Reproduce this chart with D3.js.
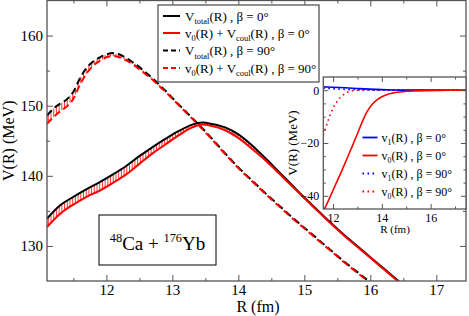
<!DOCTYPE html>
<html>
<head>
<meta charset="utf-8">
<script src="https://cdn.jsdelivr.net/npm/d3@7"></script>
<style>
  body { margin: 0; background: #fff; }
  svg { display: block; }
</style>
</head>
<body>
<div id="chart"></div>
<script>
// ---- data ----
// main panel, beta = 0
const rGrid0 = [11.1, 11.3, 11.5, 11.7, 11.9, 12.1, 12.3, 12.5, 12.7, 12.9, 13.1, 13.3, 13.45, 13.6, 13.8, 14.0, 14.2, 14.4, 14.6, 14.8, 15.0, 15.2, 15.4, 15.6, 15.8, 16.0, 16.2, 16.4, 16.6];
const vTotal0 = [133.9, 135.8, 137.0, 138.1, 139.1, 140.2, 141.4, 142.8, 144.1, 145.3, 146.4, 147.3, 147.6, 147.4, 146.9, 145.9, 144.4, 142.6, 140.7, 138.8, 136.9, 135.1, 133.3, 131.6, 130.0, 128.4, 126.8, 125.2, 123.7];
const vNucCoul0 = [132.7, 134.6, 135.9, 137.0, 137.9, 139.0, 140.2, 141.7, 143.2, 144.5, 145.8, 146.9, 147.3, 147.1, 146.5, 145.4, 143.9, 142.3, 140.5, 138.65, 136.8, 135.0, 133.2, 131.5, 129.9, 128.3, 126.7, 125.1, 123.6];

// main panel, beta = 90
const rGrid90 = [11.1, 11.2, 11.3, 11.4, 11.5, 11.6, 11.7, 11.8, 11.9, 12.0, 12.1, 12.2, 12.3, 12.4, 12.5, 12.6, 12.7, 12.8, 12.9, 13.0, 13.2, 13.4, 13.6, 13.8, 14.0, 14.2, 14.4, 14.6, 14.8, 15.0, 15.2, 15.4, 15.6, 15.8, 16.0];
const vTotal90 = [148.6, 149.6, 150.3, 150.9, 152.0, 153.9, 155.4, 156.3, 156.9, 157.3, 157.5, 157.3, 156.8, 156.2, 155.5, 154.7, 153.9, 153.0, 152.1, 151.1, 149.2, 147.3, 145.3, 143.2, 141.2, 139.4, 137.6, 135.9, 134.2, 132.6, 131.0, 129.4, 127.8, 126.3, 124.8];
const vNucCoul90 = [147.4, 148.4, 149.2, 149.9, 151.0, 153.0, 154.6, 155.7, 156.4, 156.9, 157.1, 156.9, 156.45, 155.9, 155.2, 154.45, 153.7, 152.8, 151.95, 151.0, 149.1, 147.2, 145.2, 143.1, 141.1, 139.3, 137.5, 135.8, 134.1, 132.5, 130.9, 129.3, 127.7, 126.2, 124.7];

// inset
const rV0a = [11.6, 11.8, 12.0, 12.2, 12.4, 12.6, 12.8, 13.0, 13.2, 13.4, 13.6, 13.8, 14.0, 14.2, 14.4, 14.6, 14.8, 15.0, 15.4, 15.8, 16.4, 17.0, 17.5];
const v0Beta0 = [-46.0, -42.0, -37.9, -33.8, -29.6, -25.3, -20.9, -16.5, -11.9, -8.0, -5.4, -3.7, -2.5, -1.7, -1.2, -0.8, -0.6, -0.4, -0.25, -0.15, -0.07, -0.03, 0];
const rV0b = [11.6, 11.7, 11.8, 11.9, 12.0, 12.1, 12.2, 12.3, 12.4, 12.5, 12.6, 12.8, 13.0, 13.5, 14.0, 15.0, 16.0, 17.5];
const v0Beta90 = [-17.0, -14.2, -11.5, -9.0, -6.8, -5.1, -3.8, -2.7, -1.9, -1.2, -0.7, -0.2, 0.0, 0.1, 0.1, 0.05, 0.02, 0];
const rV1 = [11.6, 12.0, 12.5, 13.0, 13.5, 14.0, 14.5, 15.0, 16.0, 17.5];
const v1Beta0 = [1.3, 1.1, 0.9, 0.65, 0.4, 0.2, 0.08, 0.03, 0.01, 0];
const v1Beta90 = [0.8, 0.55, 0.3, 0.12, 0.05, 0.02, 0.01, 0, 0, 0];

// ticks
const xMajor = [12, 13, 14, 15, 16, 17];
const xMinor = [11.5, 12.5, 13.5, 14.5, 15.5, 16.5];
const yMajor = [130, 140, 150, 160];
const yMinor = [135, 145, 155];
const inXMajor = [12, 14, 16];
const inXMinor = [13, 15, 17];
const inYMajor = [0, -20, -40];
const inYMinor = [-5, -10, -15, -25, -30, -35];

// legend texts
const legendMain = [
  [{t: "V"}, {t: "total", s: -1}, {t: "(R) , β = 0°"}],
  [{t: "v"}, {t: "0", s: -1}, {t: "(R) + V"}, {t: "coul", s: -1}, {t: "(R) , β = 0°"}],
  [{t: "V"}, {t: "total", s: -1}, {t: "(R) , β = 90°"}],
  [{t: "v"}, {t: "0", s: -1}, {t: "(R) + V"}, {t: "coul", s: -1}, {t: "(R) , β = 90°"}]
];
const legendInset = [
  [{t: "v"}, {t: "1", s: -1}, {t: "(R) , β = 0°"}],
  [{t: "v"}, {t: "0", s: -1}, {t: "(R) , β = 0°"}],
  [{t: "v"}, {t: "1", s: -1}, {t: "(R) , β = 90°"}],
  [{t: "v"}, {t: "0", s: -1}, {t: "(R) , β = 90°"}]
];
const titleParts = [{t: "48", s: 1}, {t: "Ca + "}, {t: "176", s: 1}, {t: "Yb"}];

// ---- layout ----
const width = 469, height = 316;
const main = {left: 47, right: 466, top: 0.5, bottom: 281};
const ins = {left: 323.3, right: 466, top: 77, bottom: 209};
const serif = "'Liberation Serif', 'Times New Roman', serif";
const frameColor = "#555";

const svg = d3.select("#chart").append("svg")
  .attr("width", width).attr("height", height)
  .style("font-family", serif);

const x = d3.scaleLinear().domain([11.1, 17.45]).range([main.left, main.right]);
const y = d3.scaleLinear().domain([125, 165]).range([main.bottom, main.top]);
const xi = d3.scaleLinear().domain([11.6, 17.45]).range([ins.left, ins.right]);
const yi = d3.scaleLinear().domain([-45, 5]).range([ins.bottom, ins.top]);

// rich text with sub/superscripts
function rich(sel, parts, fs) {
  let cur = 0;
  parts.forEach(p => {
    const shift = p.s === -1 ? fs * 0.3 : p.s === 1 ? -fs * 0.42 : 0;
    const ts = sel.append("tspan").text(p.t).attr("dy", shift - cur);
    if (p.s) ts.attr("font-size", fs * 0.65);
    cur = shift;
  });
}

const pairs = (xs, ys) => xs.map((d, i) => [d, ys[i]]);
const interp = (xs, ys, v) => {
  const i = Math.max(1, Math.min(xs.length - 1, d3.bisectLeft(xs, v)));
  const t = (v - xs[i - 1]) / (xs[i] - xs[i - 1]);
  return ys[i - 1] + t * (ys[i] - ys[i - 1]);
};

// clip paths
const defs = svg.append("defs");
defs.append("clipPath").attr("id", "clipMain").append("rect")
  .attr("x", main.left).attr("y", main.top)
  .attr("width", main.right - main.left).attr("height", main.bottom - main.top);
defs.append("clipPath").attr("id", "clipInset").append("rect")
  .attr("x", ins.left).attr("y", ins.top)
  .attr("width", ins.right - ins.left).attr("height", ins.bottom - ins.top);

// ---- main panel ----
const gMain = svg.append("g").attr("clip-path", "url(#clipMain)");
const line = d3.line().x(d => x(d[0])).y(d => y(d[1])).curve(d3.curveMonotoneX);

// hatching between total and nuclear+coulomb
function hatch(rs, top, bot, from, to) {
  gMain.append("g").selectAll("line")
    .data(d3.range(from, to, 0.041))
    .enter().append("line")
    .attr("x1", d => x(d)).attr("x2", d => x(d))
    .attr("y1", d => y(interp(rs, top, d)))
    .attr("y2", d => y(interp(rs, bot, d)))
    .attr("stroke", "red").attr("stroke-width", 0.8);
}
hatch(rGrid0, vTotal0, vNucCoul0, 11.12, 14.3);
hatch(rGrid90, vTotal90, vNucCoul90, 11.12, 12.9);

const curves = [
  {d: pairs(rGrid0, vTotal0), c: "black", dash: null},
  {d: pairs(rGrid0, vNucCoul0), c: "red", dash: null},
  {d: pairs(rGrid90, vTotal90), c: "black", dash: "7,4"},
  {d: pairs(rGrid90, vNucCoul90), c: "red", dash: "7,4"}
];
curves.forEach(k => {
  gMain.append("path").attr("d", line(k.d))
    .attr("fill", "none").attr("stroke", k.c).attr("stroke-width", 2)
    .attr("stroke-dasharray", k.dash);
});

// axes (ticks inward, mirrored)
function axes(xs, ys, box, xMaj, xMin, yMaj, yMin, fs, len, pad) {
  const g = svg.append("g");
  const mk = (axis, tx, ty, vals, size, labels, padding) => {
    const a = g.append("g").attr("transform", `translate(${tx},${ty})`)
      .call(axis.tickValues(vals).tickSize(-size).tickSizeOuter(0)
        .tickPadding(padding).tickFormat(labels ? d3.format("d") : ""));
    a.select(".domain").remove();
    a.selectAll("line").attr("stroke", frameColor).attr("stroke-width", 1);
    a.selectAll("text").attr("font-family", serif).attr("font-size", fs).attr("fill", "black");
    return a;
  };
  mk(d3.axisBottom(xs), 0, box.bottom, xMaj, len, true, pad.x);
  mk(d3.axisBottom(xs), 0, box.bottom, xMin, len / 2, false, 0);
  mk(d3.axisTop(xs), 0, box.top, xMaj, len, false, 0);
  mk(d3.axisTop(xs), 0, box.top, xMin, len / 2, false, 0);
  mk(d3.axisLeft(ys), box.left, 0, yMaj, len, true, pad.y);
  mk(d3.axisLeft(ys), box.left, 0, yMin, len / 2, false, 0);
  mk(d3.axisRight(ys), box.right, 0, yMaj, len, false, 0);
  mk(d3.axisRight(ys), box.right, 0, yMin, len / 2, false, 0);
  g.append("rect").attr("x", box.left).attr("y", box.top)
    .attr("width", box.right - box.left).attr("height", box.bottom - box.top)
    .attr("fill", "none").attr("stroke", frameColor).attr("stroke-width", 1.3);
}
axes(x, y, main, xMajor, xMinor, yMajor, yMinor, 15, 6, {x: 3.5, y: 4});

svg.append("text").attr("x", 258).attr("y", 311.5).attr("text-anchor", "middle")
  .attr("font-size", 16).text("R (fm)");
svg.append("text").attr("transform", `translate(14,${(main.top + main.bottom) / 2}) rotate(-90)`)
  .attr("text-anchor", "middle").attr("font-size", 16).text("V(R) (MeV)");

// main legend
svg.append("rect").attr("x", 158).attr("y", 5).attr("width", 161).attr("height", 77)
  .attr("fill", "white").attr("stroke", frameColor).attr("stroke-width", 1.3);
const legRows = [16, 33, 50.5, 68];
legendMain.forEach((parts, i) => {
  svg.append("line").attr("x1", 163).attr("x2", 180).attr("y1", legRows[i]).attr("y2", legRows[i])
    .attr("stroke", curves[i].c).attr("stroke-width", 2).attr("stroke-dasharray", curves[i].dash ? "5,3" : null);
  const t = svg.append("text").attr("x", 185).attr("y", legRows[i] + 4.5).attr("font-size", 13);
  rich(t, parts, 13);
});

// reaction label
svg.append("rect").attr("x", 99).attr("y", 215).attr("width", 117).attr("height", 50)
  .attr("fill", "none").attr("stroke", "black").attr("stroke-width", 1);
const title = svg.append("text").attr("x", 157.5).attr("y", 250)
  .attr("text-anchor", "middle").attr("font-size", 19);
rich(title, titleParts, 19);

// ---- inset ----
svg.append("rect").attr("x", ins.left).attr("y", ins.top)
  .attr("width", ins.right - ins.left).attr("height", ins.bottom - ins.top).attr("fill", "white");
const gIn = svg.append("g").attr("clip-path", "url(#clipInset)");
const lineIn = d3.line().x(d => xi(d[0])).y(d => yi(d[1])).curve(d3.curveMonotoneX);
const insetCurves = [
  {d: pairs(rV1, v1Beta0), c: "blue", dash: null},
  {d: pairs(rV0a, v0Beta0), c: "red", dash: null},
  {d: pairs(rV1, v1Beta90), c: "blue", dash: "1.6,3.4"},
  {d: pairs(rV0b, v0Beta90), c: "red", dash: "1.6,3.4"}
];
[2, 3, 0, 1].forEach(i => {
  const k = insetCurves[i];
  gIn.append("path").attr("d", lineIn(k.d))
    .attr("fill", "none").attr("stroke", k.c).attr("stroke-width", 1.6)
    .attr("stroke-dasharray", k.dash);
});
axes(xi, yi, ins, inXMajor, inXMinor, inYMajor, inYMinor, 12, 5, {x: 4.5, y: 4});

svg.append("text").attr("x", 395).attr("y", 233).attr("text-anchor", "middle")
  .attr("font-size", 11).text("R (fm)");
svg.append("text").attr("transform", `translate(297,${(ins.top + ins.bottom) / 2}) rotate(-90)`)
  .attr("text-anchor", "middle").attr("font-size", 13).text("V(R) (MeV)");

const inRows = [137.5, 155.5, 173.5, 191.5];
legendInset.forEach((parts, i) => {
  svg.append("line").attr("x1", 362.5).attr("x2", 377.5).attr("y1", inRows[i]).attr("y2", inRows[i])
    .attr("stroke", insetCurves[i].c).attr("stroke-width", 1.8)
    .attr("stroke-dasharray", insetCurves[i].dash ? "1.6,3.4" : null);
  const t = svg.append("text").attr("x", 381.5).attr("y", inRows[i] + 4.2).attr("font-size", 12);
  rich(t, parts, 12);
});
</script>
</body>
</html>
